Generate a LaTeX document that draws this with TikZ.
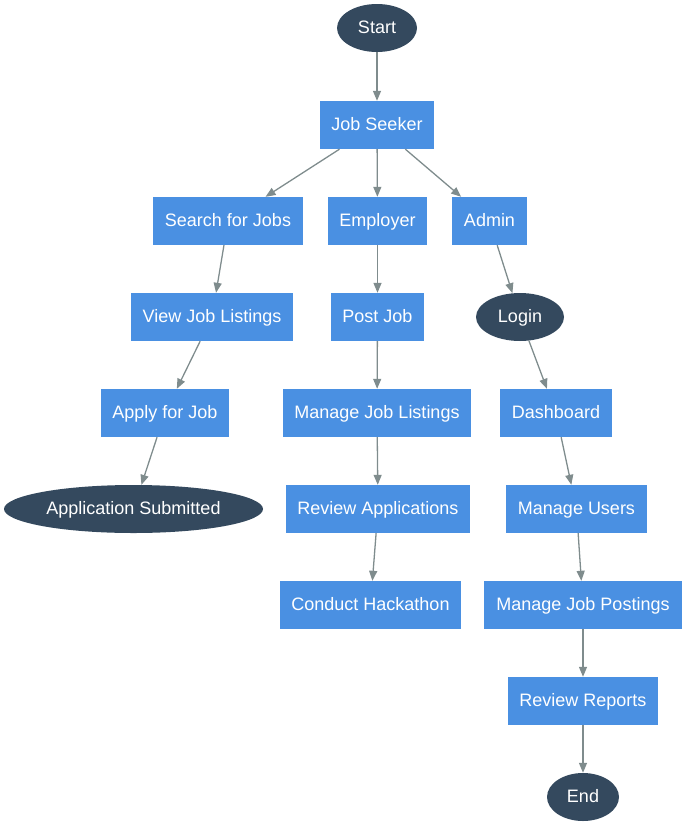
\documentclass[tikz,border=0pt]{standalone}
\usepackage{fontspec}
\setmainfont{Liberation Sans}
\usetikzlibrary{arrows.meta,shapes.geometric}
\definecolor{darknode}{HTML}{34495E}
\definecolor{bluenode}{HTML}{4A90E2}
\definecolor{edgegray}{HTML}{7F8C8D}
\begin{document}
\begin{tikzpicture}[x=1pt,y=-1pt,
  txt/.style={text=white,inner sep=0pt,minimum height=48pt,text height=12pt,text depth=1pt,font=\fontsize{18}{21}\selectfont},
  box/.style={txt,rectangle,fill=bluenode},
  oval/.style={txt,ellipse,fill=darknode},
  conn/.style={draw=edgegray,line width=1.3pt,-{Triangle[length=10pt,width=8pt]}}]
\useasboundingbox (0,0) rectangle (686,827);
\node[oval,minimum width=80pt] (start) at (377,28) {Start};
\node[box,minimum width=114pt] (seeker) at (377,125) {Job Seeker};
\node[box,minimum width=150pt] (search) at (228,221) {Search for Jobs};
\node[box,minimum width=99pt] (employer) at (377.5,221) {Employer};
\node[box,minimum width=75pt] (admin) at (489.5,221) {Admin};
\node[box,minimum width=162pt] (view) at (212,317) {View Job Listings};
\node[box,minimum width=93pt] (post) at (377.5,317) {Post Job};
\node[oval,minimum width=88pt] (login) at (520,317) {Login};
\node[box,minimum width=128pt] (apply) at (165,413) {Apply for Job};
\node[box,minimum width=188pt] (managejl) at (377,413) {Manage Job Listings};
\node[box,minimum width=112pt] (dash) at (556,413) {Dashboard};
\node[oval,minimum width=259pt] (submitted) at (133.5,509) {Application Submitted};
\node[box,minimum width=184pt] (review) at (378,509) {Review Applications};
\node[box,minimum width=141pt] (users) at (576.5,509) {Manage Users};
\node[box,minimum width=181pt] (hack) at (370.5,605) {Conduct Hackathon};
\node[box,minimum width=198pt] (postings) at (583,605) {Manage Job Postings};
\node[box,minimum width=150pt] (reports) at (583,701) {Review Reports};
\node[oval,minimum width=72pt] (end) at (583,797) {End};
\draw[conn] (start) -- (seeker);
\draw[conn] (seeker) -- (search);
\draw[conn] (seeker) -- (employer);
\draw[conn] (seeker) -- (admin);
\draw[conn] (search) -- (view);
\draw[conn] (view) -- (apply);
\draw[conn] (apply) -- (submitted);
\draw[conn] (employer) -- (post);
\draw[conn] (post) -- (managejl);
\draw[conn] (managejl) -- (review);
\draw[conn] (review) -- (hack);
\draw[conn] (admin) -- (login);
\draw[conn] (login) -- (dash);
\draw[conn] (dash) -- (users);
\draw[conn] (users) -- (postings);
\draw[conn] (postings) -- (reports);
\draw[conn] (reports) -- (end);
\end{tikzpicture}
\end{document}
